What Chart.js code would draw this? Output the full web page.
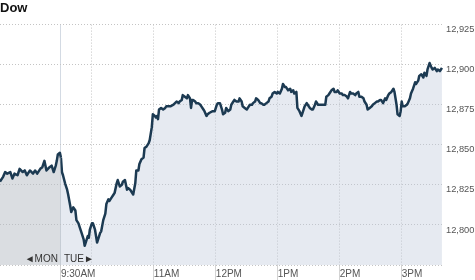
<!DOCTYPE html>
<html>
<head>
<meta charset="utf-8">
<script src="https://cdn.jsdelivr.net/npm/chart.js@4.4.1/dist/chart.umd.min.js"></script>
<style>
	html, body { margin: 0; padding: 0; background: #fff; }
	#wrap { width: 475px; height: 280px; position: relative; }
</style>
</head>
<body>
<div id="wrap"><canvas id="dow"></canvas></div>
<script>
// minutes from Tuesday's 9:30AM open (negative = end of Monday)
var monMinutes = [-59, -56, -54, -52, -49, -47, -45, -42, -40, -37, -35, -33, -30, -27, -25, -23, -20, -18, -16, -14, -11, -9, -7, -5, -4, -3, -1, 0];
var monValues = [12827, 12830, 12833, 12832, 12833, 12829, 12832, 12831, 12835, 12833, 12834, 12831, 12834, 12832, 12834, 12832, 12835, 12836, 12840, 12834, 12836, 12837, 12833, 12837, 12840, 12844, 12845, 12842];

var tueMinutes = [0, 1, 2, 4, 6, 7, 9, 10, 12, 14, 15, 17, 18, 20, 22, 23, 24, 26, 27, 28,
	30, 31, 33, 35, 36, 38, 39, 41, 43, 44, 46, 47, 49, 51, 52, 54, 55, 57, 59, 60,
	62, 64, 65, 67, 68, 70, 72, 73, 75, 76, 78, 80, 81, 83, 85, 86, 88, 89, 91, 92,
	93, 94, 95, 97, 99, 101, 102, 106, 109, 112, 114, 115, 117, 118, 120, 122, 123, 125, 126, 127,
	128, 130, 131, 133, 135, 136, 138, 139, 141, 142, 144, 147, 149, 151, 152, 154, 156, 157, 159, 160,
	162, 164, 165, 167, 168, 170, 172, 173, 175, 176, 178, 180, 181, 183, 185, 186, 188, 189, 191, 193,
	194, 196, 197, 199, 201, 202, 204, 205, 207, 209, 210, 212, 214, 215, 217, 218, 220, 222, 223, 225,
	226, 228, 229, 231, 233, 235, 236, 238, 239, 241, 243, 244, 246, 247, 249, 251, 254, 256, 257, 259,
	260, 262, 264, 265, 267, 268, 270, 272, 273, 275, 277, 278, 280, 281, 283, 285, 286, 288, 289, 291,
	293, 294, 296, 297, 299, 301, 302, 304, 306, 307, 309, 310, 312, 314, 315, 317, 318, 320, 322, 323,
	324, 325, 326, 328, 329, 330, 331, 333, 335, 336, 338, 339, 341, 343, 344, 346, 347, 349, 351, 352,
	354, 355, 357, 359, 360, 362, 364, 365, 367, 368, 369];
var tueValues = [12842, 12833, 12831, 12826, 12822, 12819, 12812, 12808, 12811, 12809, 12803, 12801, 12799, 12795, 12791, 12787, 12789, 12793, 12792, 12797,
	12801, 12801, 12797, 12789, 12791, 12795, 12796, 12803, 12807, 12813, 12816, 12815, 12817, 12819, 12820, 12826, 12828, 12824, 12825, 12827,
	12828, 12822, 12823, 12822, 12821, 12819, 12826, 12834, 12834, 12838, 12841, 12842, 12848, 12849, 12851, 12853, 12861, 12869, 12868, 12867,
	12868, 12866, 12872, 12873, 12872, 12873, 12874, 12874, 12875, 12877, 12876, 12877, 12878, 12881, 12880, 12879, 12881, 12879, 12873, 12878,
	12878, 12877, 12876, 12876, 12875, 12874, 12872, 12871, 12868, 12869, 12870, 12871, 12871, 12875, 12876, 12876, 12872, 12869, 12870, 12873,
	12871, 12872, 12875, 12877, 12878, 12877, 12877, 12879, 12877, 12874, 12873, 12872, 12873, 12875, 12875, 12876, 12877, 12879, 12878, 12876,
	12876, 12875, 12875, 12876, 12877, 12879, 12880, 12882, 12883, 12882, 12883, 12882, 12885, 12888, 12886, 12886, 12884, 12885, 12883, 12884,
	12882, 12883, 12873, 12871, 12868, 12872, 12874, 12876, 12875, 12873, 12872, 12872, 12875, 12877, 12875, 12875, 12875, 12875, 12880, 12881,
	12882, 12884, 12885, 12883, 12883, 12884, 12882, 12882, 12881, 12881, 12880, 12879, 12883, 12882, 12882, 12881, 12882, 12883, 12880, 12880,
	12879, 12877, 12875, 12872, 12873, 12874, 12875, 12876, 12877, 12877, 12878, 12878, 12876, 12879, 12878, 12881, 12882, 12883, 12885, 12883,
	12879, 12875, 12869, 12868, 12871, 12877, 12874, 12874, 12875, 12876, 12879, 12882, 12885, 12889, 12888, 12890, 12893, 12894, 12892, 12895,
	12893, 12897, 12901, 12898, 12897, 12898, 12896, 12897, 12896, 12897, 12898];

var timeTicks = [0, 30, 90, 150, 210, 270, 330];
var timeLabels = ['9:30AM', '', '11AM', '12PM', '1PM', '2PM', '3PM'];
var priceTicks = [12775, 12800, 12825, 12850, 12875, 12900, 12925];
var dayNames = ['MON', 'TUE'];

var fontFamily = 'Arial, "Liberation Sans", Helvetica, sans-serif';
Chart.defaults.font.family = fontFamily;

function toPoints(xs, ys) {
	return xs.map(function (m, i) { return { x: m, y: ys[i] }; });
}

var dayLabels = {
	id: 'dayLabels',
	afterDatasetsDraw: function (chart) {
		var ctx = chart.ctx,
			x = chart.scales.x.getPixelForValue(0),
			y = chart.chartArea.bottom - 3;
		ctx.save();
		ctx.font = '10px ' + fontFamily;
		ctx.fillStyle = '#333';
		ctx.textBaseline = 'alphabetic';
		ctx.textAlign = 'right';
		ctx.fillText('\u25C4' + dayNames[0], x - 3, y);
		ctx.textAlign = 'left';
		ctx.fillText(dayNames[1] + '\u25BA', x + 3, y);
		ctx.restore();
	}
};

var ctxL = document.getElementById('dow').getContext('2d');
var dowChart = new Chart(ctxL, {
	type: 'line',
	data: {
		datasets: [
			{
				label: 'Mon',
				data: toPoints(monMinutes, monValues),
				borderColor: '#1c3a52',
				borderWidth: 2.5,
				backgroundColor: 'rgba(181,187,195,0.5)',
				fill: 'start',
				pointRadius: 0,
				tension: 0,
				borderJoinStyle: 'round'
			},
			{
				label: 'Tue',
				data: toPoints(tueMinutes, tueValues),
				borderColor: '#1c3a52',
				borderWidth: 2.5,
				backgroundColor: 'rgba(192,202,220,0.4)',
				fill: 'start',
				pointRadius: 0,
				tension: 0,
				borderJoinStyle: 'round'
			}
		]
	},
	options: {
		responsive: true,
		maintainAspectRatio: false,
		animation: false,
		layout: { padding: 0 },
		plugins: {
			legend: { display: false },
			tooltip: { enabled: false },
			title: {
				display: true,
				text: 'Dow',
				align: 'start',
				color: '#111',
				font: { size: 13, weight: 'bold' },
				padding: { top: 1, bottom: 8 }
			}
		},
		scales: {
			x: {
				type: 'linear',
				min: -59,
				max: 370,
				afterBuildTicks: function (s) {
					s.ticks = timeTicks.map(function (v) { return { value: v }; });
				},
				afterFit: function (s) { s.height = 15; },
				ticks: {
					autoSkip: false,
					maxRotation: 0,
					align: 'start',
					padding: -11.5,
					color: '#555',
					font: { size: 10 },
					callback: function (v) { return timeLabels[timeTicks.indexOf(v)]; }
				},
				grid: {
					color: function (c) { return c.tick && c.tick.value === 0 ? '#d3dae3' : '#c4c4c4'; },
					lineWidth: 1,
					tickLength: 15,
					tickColor: function (c) { return c.tick && c.tick.value === 30 ? 'rgba(0,0,0,0)' : '#d3d3d3'; },
					tickBorderDash: []
				},
				border: {
					display: false,
					dash: function (c) { return c.tick && c.tick.value === 0 ? [] : [1, 2]; }
				}
			},
			y: {
				position: 'right',
				min: 12775,
				max: 12925,
				afterBuildTicks: function (s) {
					s.ticks = priceTicks.map(function (v) { return { value: v }; });
				},
				afterFit: function (s) { s.width = 32; },
				ticks: {
					padding: 3,
					labelOffset: 5,
					color: '#555',
					font: { size: 9.3 },
					callback: function (v) { return v === priceTicks[0] ? '' : v.toLocaleString('en-US'); }
				},
				grid: {
					color: '#c4c4c4',
					lineWidth: 1,
					drawTicks: false
				},
				border: { display: false, dash: [1, 2] }
			}
		}
	},
	plugins: [dayLabels]
});
</script>
</body>
</html>
